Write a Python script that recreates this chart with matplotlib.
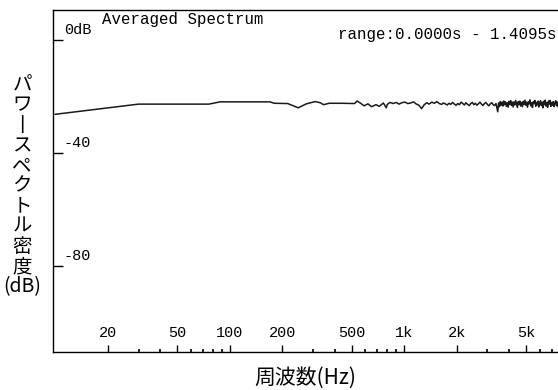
import matplotlib
matplotlib.use("Agg")
import matplotlib.pyplot as plt
import matplotlib.transforms as mtransforms

# averaged spectrum (Hz, dB)
freq_low = [10, 30, 76, 88, 170, 180, 215, 247, 275, 309, 330, 345, 372, 440,
            520, 537, 560, 590, 620, 650, 690, 720, 760, 790]
db_low = [-26.3, -22.7, -22.7, -21.9, -21.9, -22.4, -22.5, -24.0, -22.6, -21.8,
          -22.2, -22.9, -22.4, -22.4, -22.5, -21.6, -22.3, -23.3, -22.6, -23.6,
          -22.9, -23.5, -22.3, -24.0]

freq_mid = [800, 830, 865, 900, 935, 970, 1010, 1050, 1090, 1130, 1170, 1215,
            1260, 1300, 1345, 1390, 1440, 1490, 1540, 1590,
            1640, 1680, 1720, 1765, 1810, 1850, 1895, 1940, 1985, 2030, 2075,
            2120, 2170, 2215, 2260, 2310, 2360, 2410, 2460, 2510, 2560, 2610,
            2665, 2720, 2775, 2830, 2885, 2940, 3000, 3060, 3120, 3180, 3240,
            3300, 3360]
db_mid = [-22.8, -22.1, -22.5, -22.1, -22.7, -22.2, -22.0, -22.5, -22.3, -21.9,
          -22.6, -23.1, -24.3, -23.0, -22.2, -22.7, -22.0, -22.4, -21.8, -22.5,
          -22.8, -22.3, -22.6, -23.0, -22.4, -22.8, -22.1, -22.7, -23.1, -22.5,
          -22.9, -22.0, -22.5, -23.0, -22.2, -22.8, -23.2, -22.5, -22.1, -22.9,
          -22.4, -23.1, -22.6, -22.0, -22.7, -23.2, -22.5, -22.1, -22.8, -23.3,
          -22.6, -22.2, -22.9, -23.2, -22.5]

freq_high = [3400, 3440, 3480, 3520, 3560, 3600, 3640, 3680, 3720, 3765, 3810,
             3855, 3900, 3945, 3990, 4035, 4080, 4125, 4170, 4215, 4260, 4310,
             4360, 4410, 4460, 4510, 4560, 4610, 4660, 4710, 4765, 4820, 4875,
             4930, 4985, 5040, 5095, 5150, 5205, 5260, 5320, 5380, 5440, 5500,
             5560, 5620, 5680, 5740, 5800, 5860, 5920, 5985, 6050, 6115, 6180,
             6245, 6310, 6375, 6440, 6510, 6580, 6650, 6720, 6790, 6860, 6935,
             7010, 7085, 7160, 7240, 7320, 7400, 7480, 7560, 7640, 7720, 7800,
             7880, 7960, 8050, 8140, 8230, 8320, 8410, 8500, 8600, 8700, 8800,
             8900]
db_high = [-24.0, -25.4, -22.3, -23.6, -21.8, -23.1, -22.0, -23.4, -21.6, -22.9,
           -21.9, -23.5, -22.2, -23.8, -21.7, -22.8, -21.5, -23.2, -22.0, -23.7,
           -21.9, -23.0, -21.4, -22.7, -23.9, -21.8, -22.9, -21.6, -23.4, -22.1,
           -23.6, -21.7, -22.8, -21.3, -23.1, -22.0, -23.8, -21.9, -22.6, -21.2,
           -23.3, -22.2, -23.9, -21.8, -22.5, -21.4, -23.5, -22.1, -23.0, -21.6,
           -23.7, -22.3, -21.5, -23.2, -22.0, -24.0, -21.7, -22.9, -21.3, -23.4,
           -22.2, -23.8, -21.6, -22.7, -21.4, -23.5, -22.1, -23.1, -21.8, -23.6,
           -22.3, -21.5, -23.3, -22.0, -23.7, -21.9, -22.8, -21.4, -23.2, -22.1,
           -23.9, -21.7, -22.6, -21.3, -23.4, -22.2, -23.0, -21.8, -22.9]

freq = freq_low + freq_mid + freq_high
db = db_low + db_mid + db_high

xticks = [20, 50, 100, 200, 500, 1000, 2000, 5000]
xtick_labels = ["20", "50", "100", "200", "500", "1k", "2k", "5k"]
xminor = [30, 40, 60, 70, 80, 90, 300, 400, 600, 700, 800, 900,
          3000, 4000, 6000, 7000, 8000]
yticks = [0, -40, -80]
ytick_labels = ["0dB", "-40", "-80"]

mono = "Liberation Mono"
cjk = ["Noto Sans CJK JP", "DejaVu Sans"]

fig = plt.figure(figsize=(5.58, 3.90), dpi=100)
# axes runs a little past the right edge, like the cropped original
ax = fig.add_axes([53 / 558, 38 / 390, 517 / 558, 342 / 390])

ax.plot(freq, db, color="#1a1a1a", lw=1.1)

ax.set_xscale("log")
ax.set_xlim(9.7, 8930)
ax.set_ylim(-110.4, 10.6)

ax.spines["right"].set_visible(False)
for s in ["left", "top", "bottom"]:
    ax.spines[s].set_linewidth(1.0)

ax.set_xticks(xticks)
ax.set_xticks(xminor, minor=True)
ax.set_yticks(yticks)
ax.tick_params(axis="x", which="major", direction="in", length=5, width=1,
               labelbottom=False)
ax.tick_params(axis="x", which="minor", direction="in", length=2, width=1.2,
               labelbottom=False)
ax.tick_params(axis="y", which="major", direction="in", length=7.5, width=1,
               labelleft=False)
ax.tick_params(axis="y", which="minor", left=False)

trans_x = mtransforms.blended_transform_factory(ax.transData, ax.transAxes)
for v, lbl in zip(xticks, xtick_labels):
    ax.text(v, 0.056, lbl, transform=trans_x, ha="center", va="center",
            family=mono, fontsize=11)

trans_y = mtransforms.blended_transform_factory(ax.transAxes, ax.transData)
for v, lbl in zip(yticks, ytick_labels):
    ax.text(0.021, v + 1.0, lbl, transform=trans_y, ha="left", va="bottom",
            family=mono, fontsize=11)

ax.text(0.0948, 0.972, "Averaged Spectrum", transform=ax.transAxes,
        ha="left", va="center", family=mono, fontsize=11.3)
fig.text(0.998, 1 - 35 / 390, "range:0.0000s - 1.4095s", ha="right",
         va="center", family=mono, fontsize=11.3)

fig.text(305 / 558, 1 - 378 / 390, "周波数(Hz)", ha="center", va="center",
         family=cjk, fontsize=15)
fig.text(22 / 558, 1 - 186 / 390,
         "パ\nワ\n丨\nス\nペ\nク\nト\nル\n密\n度\n(dB)",
         ha="center", va="center", multialignment="center", linespacing=0.95,
         family=cjk, fontsize=14)

fig.savefig("out.png", dpi=100)
